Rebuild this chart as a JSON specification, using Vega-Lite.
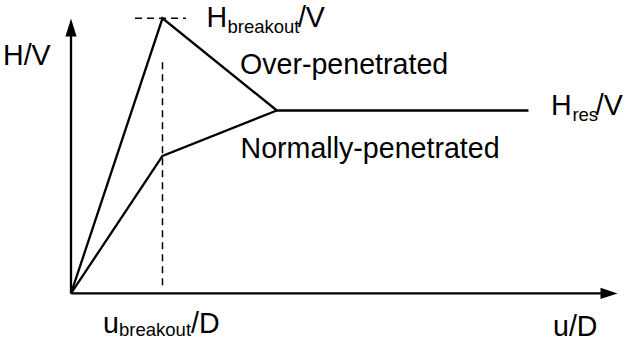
{
  "$schema": "https://vega.github.io/schema/vega-lite/v6.json",
  "width": 626,
  "height": 343,
  "padding": 0,
  "autosize": {"type": "none"},
  "background": "white",
  "config": {
    "view": {"stroke": null},
    "text": {"font": "Liberation Sans", "color": "black", "align": "left", "baseline": "alphabetic"}
  },
  "datasets": {
    "curves": [
      {"curve": "over", "step": 0, "u": 0, "h": 0},
      {"curve": "over", "step": 1, "u": 1, "h": 1},
      {"curve": "over", "step": 2, "u": 2.25, "h": 0.665},
      {"curve": "over", "step": 3, "u": 5.0, "h": 0.665},
      {"curve": "normal", "step": 0, "u": 0, "h": 0},
      {"curve": "normal", "step": 1, "u": 1, "h": 0.5},
      {"curve": "normal", "step": 2, "u": 2.25, "h": 0.665}
    ],
    "axesLines": [
      {"u": 0, "h": 0, "u2": 0, "h2": 0.95},
      {"u": 0, "h": 0, "u2": 5.85, "h2": 0}
    ],
    "guides": [
      {"u": 0.70, "h": 1, "u2": 1.257, "h2": 1},
      {"u": 1, "h": 0.84, "u2": 1, "h2": 0.012}
    ],
    "arrowUp": [{"u": 0, "h": 0.967}],
    "arrowRight": [{"u": 5.88, "h": 0}],
    "mainText": [
      {"label": "H/V", "u": -0.743, "h": 0.830},
      {"label": "H", "u": 1.481, "h": 0.968},
      {"label": "/V", "u": 2.48, "h": 0.968},
      {"label": "Over-penetrated", "u": 1.847, "h": 0.798},
      {"label": "H", "u": 5.246, "h": 0.6486},
      {"label": "/V", "u": 5.735, "h": 0.6486},
      {"label": "Normally-penetrated", "u": 1.853, "h": 0.4913},
      {"label": "u", "u": 0.35, "h": -0.1435},
      {"label": "/D", "u": 1.311, "h": -0.1435},
      {"label": "u/D", "u": 5.268, "h": -0.1544}
    ],
    "subText": [
      {"label": "breakout", "u": 1.71, "h": 0.9466},
      {"label": "res", "u": 5.48, "h": 0.625},
      {"label": "breakout", "u": 0.525, "h": -0.1544}
    ]
  },
  "encoding": {
    "x": {"field": "u", "type": "quantitative", "axis": null,
          "scale": {"domain": [-0.776, 6.066], "nice": false, "zero": false}},
    "y": {"field": "h", "type": "quantitative", "axis": null,
          "scale": {"domain": [-0.18, 1.0665], "nice": false, "zero": false}}
  },
  "layer": [
    {
      "data": {"name": "axesLines"},
      "mark": {"type": "rule", "color": "black", "strokeWidth": 2.3},
      "encoding": {
        "x2": {"field": "u2"},
        "y2": {"field": "h2"}
      }
    },
    {
      "data": {"name": "arrowUp"},
      "mark": {"type": "point", "filled": true, "color": "black", "opacity": 1,
               "shape": "M0,-1L0.62,1L-0.62,1Z", "size": 324}
    },
    {
      "data": {"name": "arrowRight"},
      "mark": {"type": "point", "filled": true, "color": "black", "opacity": 1,
               "shape": "M1,0L-1,0.66L-1,-0.66Z", "size": 289}
    },
    {
      "data": {"name": "guides"},
      "mark": {"type": "rule", "color": "black", "strokeWidth": 1.5, "strokeDash": [7, 5]},
      "encoding": {
        "x2": {"field": "u2"},
        "y2": {"field": "h2"}
      }
    },
    {
      "data": {"name": "curves"},
      "mark": {"type": "line", "color": "black", "strokeWidth": 2.3, "strokeJoin": "miter"},
      "encoding": {
        "detail": {"field": "curve"},
        "order": {"field": "step", "type": "quantitative"}
      }
    },
    {
      "data": {"name": "mainText"},
      "mark": {"type": "text", "fontSize": 28.6},
      "encoding": {"text": {"field": "label"}}
    },
    {
      "data": {"name": "subText"},
      "mark": {"type": "text", "fontSize": 18.5},
      "encoding": {"text": {"field": "label"}}
    }
  ]
}
